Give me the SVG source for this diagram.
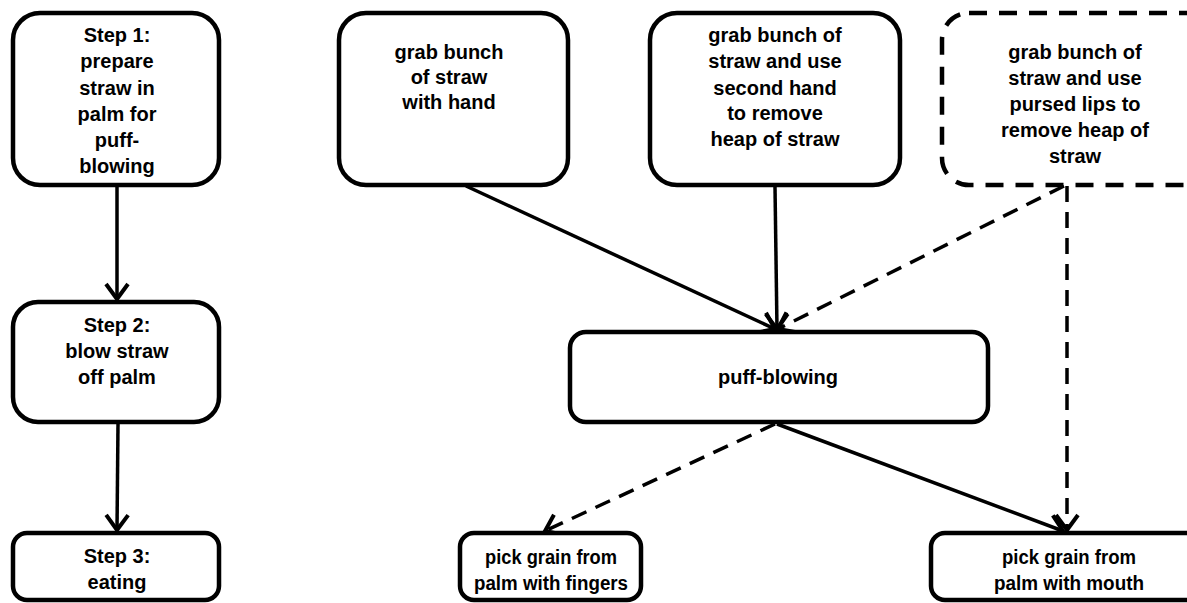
<svg xmlns="http://www.w3.org/2000/svg" width="1187" height="603" viewBox="0 0 1187 603">
<defs>
<style>
.box{fill:#fff;stroke:#000;stroke-width:4.5}
.dbox{fill:#fff;stroke:#000;stroke-width:4.5;stroke-dasharray:18 12}
.t{font-family:"Liberation Sans",Arial,sans-serif;font-weight:bold;font-size:20px;text-anchor:middle;fill:#000}
.c{fill:none;stroke:#000;stroke-width:3.5}
.d{fill:none;stroke:#000;stroke-width:3.5;stroke-dasharray:16 10}
</style>
<marker id="ah" markerUnits="userSpaceOnUse" viewBox="-4 -14 24 28" markerWidth="24" markerHeight="28" refX="15" refY="0" orient="auto">
<path d="M0,-11 L15,0 L0,11" fill="none" stroke="#000" stroke-width="4" stroke-linejoin="miter"/>
</marker>
</defs>
<rect width="1187" height="603" fill="#fff"/>
<g id="connectors">
<line class="c" x1="117" y1="186" x2="117" y2="299" marker-end="url(#ah)"/>
<line class="c" x1="118" y1="424" x2="117" y2="530" marker-end="url(#ah)"/>
<line class="c" x1="466" y1="186" x2="775" y2="329" marker-end="url(#ah)"/>
<line class="c" x1="775" y1="187" x2="777" y2="329" marker-end="url(#ah)"/>
<line class="d" x1="1064" y1="186" x2="778" y2="329" marker-end="url(#ah)"/>
<line class="d" x1="775" y1="424" x2="545" y2="531" marker-end="url(#ah)"/>
<line class="c" x1="777" y1="424" x2="1063" y2="531" marker-end="url(#ah)"/>
<line class="d" x1="1067" y1="186" x2="1067" y2="530" marker-end="url(#ah)"/>
</g>
<g id="step1">
<rect class="box" x="13" y="13" width="206" height="172" rx="27"/>
<text class="t"><tspan x="117" y="42">Step 1:</tspan><tspan x="117" y="68">prepare</tspan><tspan x="117" y="95">straw in</tspan><tspan x="117" y="121">palm for</tspan><tspan x="117" y="147">puff-</tspan><tspan x="117" y="173">blowing</tspan></text>
</g>
<g id="step2">
<rect class="box" x="13" y="302" width="206" height="120" rx="25"/>
<text class="t"><tspan x="117" y="332">Step 2:</tspan><tspan x="117" y="358">blow straw</tspan><tspan x="117" y="384">off palm</tspan></text>
</g>
<g id="step3">
<rect class="box" x="13" y="533" width="206" height="67" rx="14"/>
<text class="t"><tspan x="117" y="563">Step 3:</tspan><tspan x="117" y="589">eating</tspan></text>
</g>
<g id="grab-hand">
<rect class="box" x="339" y="13" width="229" height="172" rx="27"/>
<text class="t"><tspan x="449" y="59">grab bunch</tspan><tspan x="449" y="84">of straw</tspan><tspan x="449" y="109">with hand</tspan></text>
</g>
<g id="grab-second-hand">
<rect class="box" x="650" y="13" width="250" height="172" rx="27"/>
<text class="t"><tspan x="775" y="42">grab bunch of</tspan><tspan x="775" y="68">straw and use</tspan><tspan x="775" y="95">second hand</tspan><tspan x="775" y="120">to remove</tspan><tspan x="775" y="146">heap of straw</tspan></text>
</g>
<g id="grab-pursed-lips">
<rect class="dbox" x="942" y="13" width="270" height="172" rx="27"/>
<text class="t"><tspan x="1075" y="59">grab bunch of</tspan><tspan x="1075" y="85">straw and use</tspan><tspan x="1075" y="111">pursed lips to</tspan><tspan x="1075" y="137">remove heap of</tspan><tspan x="1075" y="163">straw</tspan></text>
</g>
<g id="puff-blowing">
<rect class="box" x="570" y="332" width="418" height="90" rx="16"/>
<text class="t" x="778" y="384">puff-blowing</text>
</g>
<g id="pick-fingers">
<rect class="box" x="460" y="533" width="181" height="67" rx="14"/>
<text class="t"><tspan x="551" y="564" textLength="132" lengthAdjust="spacingAndGlyphs">pick grain from</tspan><tspan x="551" y="590" textLength="154" lengthAdjust="spacingAndGlyphs">palm with fingers</tspan></text>
</g>
<g id="pick-mouth">
<rect class="box" x="931" y="533" width="280" height="67" rx="14"/>
<text class="t"><tspan x="1069" y="564" textLength="134" lengthAdjust="spacingAndGlyphs">pick grain from</tspan><tspan x="1069" y="590" textLength="150" lengthAdjust="spacingAndGlyphs">palm with mouth</tspan></text>
</g>
</svg>
